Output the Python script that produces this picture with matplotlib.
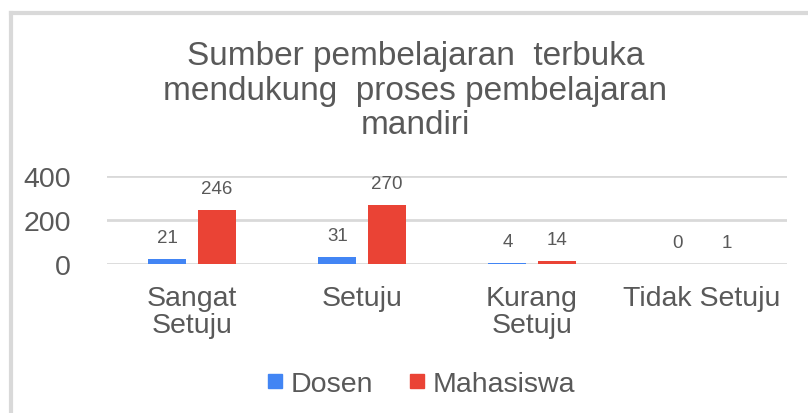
import numpy as np
import matplotlib.pyplot as plt
from matplotlib.lines import Line2D

plt.rcParams['font.family'] = ['Liberation Sans', 'DejaVu Sans']

categories = ['Sangat\nSetuju', 'Setuju', 'Kurang\nSetuju', 'Tidak Setuju']
dosen = [21, 31, 4, 0]
mahasiswa = [246, 270, 14, 1]
yticks = [0, 200, 400]

title = 'Sumber pembelajaran  terbuka\nmendukung  proses pembelajaran\nmandiri'

text_color = '#595959'
blue = '#4285F4'
red = '#EA4335'

fig = plt.figure(figsize=(8.08, 4.14), dpi=100)
ax = fig.add_axes([0.1324, 0.3599, 0.8416, 0.2126])

x = np.arange(len(categories))
w = 0.224
off = 0.145
b1 = ax.bar(x - off, dosen, w, color=blue)
b2 = ax.bar(x + off, mahasiswa, w, color=red)

for bars, vals in ((b1, dosen), (b2, mahasiswa)):
    for rect, v in zip(bars, vals):
        ax.annotate(str(v), (rect.get_x() + rect.get_width() / 2, v),
                    xytext=(0, 15.5), textcoords='offset points',
                    ha='center', va='center', fontsize=13.5,
                    color=text_color, annotation_clip=False)

ax.set_xlim(-0.5, 3.5)
ax.set_ylim(0, 400)
ax.set_yticks(yticks)
ax.set_xticks(x)
ax.set_xticklabels(categories, fontsize=20.5, color=text_color, linespacing=1.07)
ax.tick_params(axis='y', labelsize=20.5, labelcolor=text_color, length=0, pad=26)
ax.tick_params(axis='x', length=0, pad=15)
ax.grid(axis='y', color='#d9d9d9', linewidth=2)
ax.set_axisbelow(True)
for s in ax.spines.values():
    s.set_visible(False)

fig.text(0.514, 0.9, title, ha='center', va='top', fontsize=24,
         color=text_color, linespacing=1.13)

handles = [Line2D([], [], marker='s', linestyle='', markersize=10, color=blue),
           Line2D([], [], marker='s', linestyle='', markersize=10, color=red)]
fig.legend(handles, ['Dosen', 'Mahasiswa'], loc='center', bbox_to_anchor=(0.52, 0.07),
           ncol=2, frameon=False, fontsize=20.5, labelcolor=text_color,
           handletextpad=0.2, columnspacing=1.2, handlelength=0.7)

# light frame along the top and left edges
fig.add_artist(Line2D([0.0136, 1.0], [0.965, 0.965], color='#d9d9d9', linewidth=3,
                      transform=fig.transFigure))
fig.add_artist(Line2D([0.0136, 0.0136], [0.0, 0.965], color='#d9d9d9', linewidth=3,
                      transform=fig.transFigure))

fig.savefig('out.png', dpi=100, facecolor='white')
